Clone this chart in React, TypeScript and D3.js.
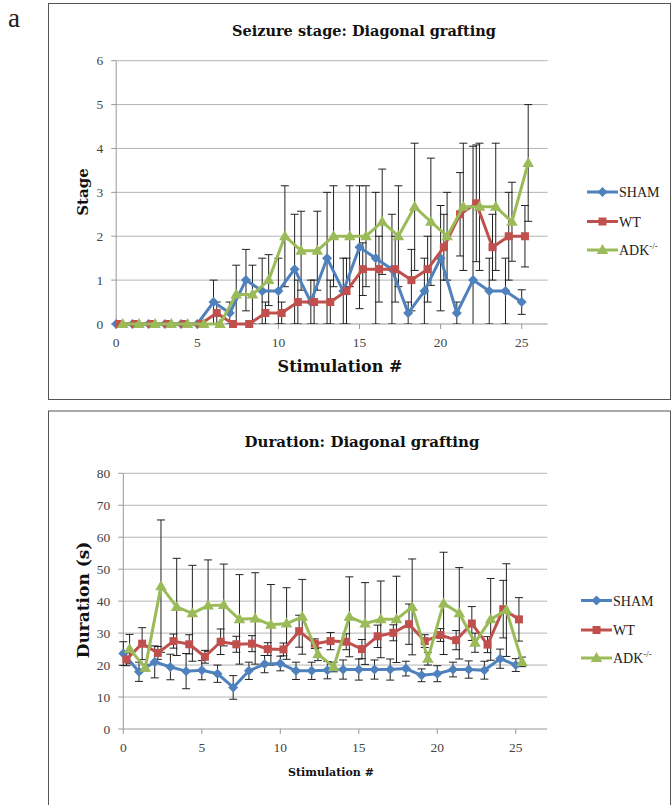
import React from "react";
import * as d3 from "d3";

// ---------- DATA ----------
const stimulation = [0, 1, 2, 3, 4, 5, 6, 7, 8, 9, 10, 11, 12, 13, 14, 15, 16, 17, 18, 19, 20, 21, 22, 23, 24, 25];
const seriesNames = ["SHAM", "WT", "ADK"];
const seriesOffsets = [0, 0.2, 0.4];
const seriesColors = ["#4F81BD", "#C0504D", "#9BBB59"];
const xTicks = [0, 5, 10, 15, 20, 25];

const stageTicks = [0, 1, 2, 3, 4, 5, 6];
const shamStage = [0, 0, 0, 0, 0, 0, 0.5, 0.25, 1, 0.75, 0.75, 1.25, 0.5, 1.5, 0.75, 1.75, 1.5, 1.25, 0.25, 0.75, 1.5, 0.25, 1, 0.75, 0.75, 0.5];
const shamStageErr = [0, 0, 0, 0, 0, 0, 0.5, 0.25, 0.7, 0.75, 0.75, 1.25, 0.5, 1.5, 0.75, 1.4, 1.5, 1.25, 0.25, 0.75, 1.2, 0.25, 3.05, 0.75, 0.75, 0.28];
const wtStage = [0, 0, 0, 0, 0, 0, 0.25, 0, 0, 0.25, 0.25, 0.5, 0.5, 0.5, 0.75, 1.25, 1.25, 1.25, 1, 1.25, 1.75, 2.5, 2.75, 1.75, 2, 2];
const wtStageErr = [0, 0, 0, 0, 0, 0, 0.25, 0, 0, 0.25, 0.25, 0.5, 0.5, 0.5, 0.75, 0.6, 0.75, 0.75, 0.7, 0.75, 0.75, 0.95, 1.33, 0.75, 1, 0.7];
const adkStage = [0, 0, 0, 0, 0, 0, 0, 0.67, 0.67, 1, 2, 1.67, 1.67, 2, 2, 2, 2.33, 2, 2.67, 2.33, 2, 2.67, 2.67, 2.67, 2.33, 3.67];
const adkStageErr = [0, 0, 0, 0, 0, 0, 0, 0.67, 0.67, 0.58, 1.15, 0.9, 0.9, 1.15, 1.15, 1.15, 1.2, 1.15, 1.45, 1.45, 1.0, 1.45, 1.45, 1.45, 0.9, 1.33];

const durationTicks = [0, 10, 20, 30, 40, 50, 60, 70, 80];
const shamDur = [23.6, 17.9, 21.0, 19.4, 18.1, 18.4, 17.3, 13.0, 18.2, 20.3, 20.5, 18.2, 18.2, 18.4, 18.6, 18.6, 18.6, 18.6, 18.9, 16.8, 17.3, 18.6, 18.6, 18.4, 22.0, 20.0];
const shamDurErr = [3.7, 3, 5, 4, 5.5, 3, 2.7, 3.7, 2.7, 2.7, 2.3, 2.7, 2.7, 2.7, 3, 3.3, 3, 3.3, 2.3, 2, 2.5, 2.3, 2.7, 2.8, 3, 2];
const wtDur = [21.8, 26.7, 23.8, 27.5, 26.5, 22.6, 27.3, 26.5, 26.7, 25.0, 24.9, 30.6, 26.7, 27.5, 27.3, 25.0, 29.0, 30.1, 32.8, 27.5, 29.4, 27.8, 33.0, 26.4, 37.5, 34.3];
const wtDurErr = [2, 5, 2, 2.2, 3, 2, 4, 2.5, 2.5, 2, 2, 5, 1.5, 2.7, 2.5, 3, 3.5, 2.5, 6.3, 2, 2, 3, 5.3, 2.5, 9, 6.8];
const adkDur = [25.0, 19.2, 44.7, 38.2, 36.2, 38.6, 38.8, 34.3, 34.6, 32.6, 33.0, 35.1, 23.4, 19.4, 35.1, 33.0, 34.3, 34.3, 38.2, 22.0, 39.3, 36.2, 27.0, 34.3, 37.2, 21.0];
const adkDurErr = [4.6, 1, 20.7, 15.2, 15, 14.3, 12.8, 14, 14.3, 12.6, 11.2, 11.7, 2, 1.5, 12.5, 12.8, 12, 13.5, 15, 2, 16, 14.3, 3, 12.8, 14.5, 1.5];

const FONT = "'Liberation Serif', 'DejaVu Serif', serif";
const BOLD_FONT = "'DejaVu Serif', 'Liberation Serif', serif";

type Layout = {
  id: string;
  boxTop: number;
  boxBottom: number;
  title: string;
  titleX: number;
  titleY: number;
  titleSize: number;
  yLabel: string;
  yLabelX: number;
  yLabelY: number;
  yLabelSize: number;
  xLabelX: number;
  xLabelY: number;
  xLabelSize: number;
  x0: number;
  xUnit: number;
  xMax: number;
  yTop: number;
  yBottom: number;
  yMax: number;
  yTicks: number[];
  legendX: number;
  legendY: number[];
  values: number[][];
  errors: number[][];
};

function Marker({ kind, x, y, color }: { kind: number; x: number; y: number; color: string }) {
  if (kind === 0) {
    const r = 5;
    return <path d={`M${x},${y - r}L${x + r},${y}L${x},${y + r}L${x - r},${y}Z`} fill={color} />;
  }
  if (kind === 1) {
    return <rect x={x - 4} y={y - 4} width={8} height={8} fill={color} />;
  }
  return <path d={`M${x},${y - 6}L${x + 5.8},${y + 4}L${x - 5.8},${y + 4}Z`} fill={color} />;
}

function Chart({ L }: { L: Layout }) {
  const x = d3.scaleLinear().domain([0, L.xMax]).range([L.x0, L.x0 + L.xUnit * L.xMax]);
  const y = d3.scaleLinear().domain([0, L.yMax]).range([L.yBottom, L.yTop]);
  const xRight = x(L.xMax);
  const line = d3.line<[number, number]>().x((d) => x(d[0])).y((d) => y(d[1]));
  return (
    <g>
      <rect x={48.5} y={L.boxTop} width={622} height={L.boxBottom - L.boxTop} fill="white" stroke="#555" strokeWidth={1} />
      <text x={L.titleX} y={L.titleY} textAnchor="middle" fontFamily={BOLD_FONT} fontWeight="bold" fontSize={L.titleSize} fill="#111">
        {L.title}
      </text>
      {L.yTicks.map((t) => (
        <g key={"g" + t}>
          {t > 0 && <line x1={L.x0} x2={xRight} y1={y(t)} y2={y(t)} stroke="#b4b4b4" strokeWidth={1} />}
          <line x1={L.x0 - 5} x2={L.x0} y1={y(t)} y2={y(t)} stroke="#999" strokeWidth={1} />
          <text x={L.x0 - 13} y={y(t) + 4.5} textAnchor="end" fontFamily={FONT} fontSize={13.5} fill="#444">
            {t}
          </text>
        </g>
      ))}
      <line x1={L.x0} x2={L.x0} y1={L.yTop} y2={L.yBottom} stroke="#999" strokeWidth={1} />
      <line x1={L.x0} x2={xRight} y1={L.yBottom} y2={L.yBottom} stroke="#999" strokeWidth={1} />
      {xTicks.map((t) => (
        <g key={"x" + t}>
          <line x1={x(t)} x2={x(t)} y1={L.yBottom} y2={L.yBottom + 5} stroke="#999" strokeWidth={1} />
          <text x={x(t)} y={L.yBottom + 23} textAnchor="middle" fontFamily={FONT} fontSize={13.5} fill="#444">
            {t}
          </text>
        </g>
      ))}
      <text
        transform={`translate(${L.yLabelX},${L.yLabelY}) rotate(-90)`}
        textAnchor="middle"
        fontFamily={BOLD_FONT}
        fontWeight="bold"
        fontSize={L.yLabelSize}
        fill="#111"
      >
        {L.yLabel}
      </text>
      <text x={L.xLabelX} y={L.xLabelY} textAnchor="middle" fontFamily={BOLD_FONT} fontWeight="bold" fontSize={L.xLabelSize} fill="#111">
        Stimulation #
      </text>
      <defs>
        <clipPath id={"clip" + L.id}>
          <rect x={L.x0 - 10} y={L.yTop} width={xRight - L.x0 + 20} height={L.yBottom - L.yTop} />
        </clipPath>
      </defs>
      <g clipPath={`url(#clip${L.id})`}>
        {L.values.map((vals, s) =>
          vals.map((v, i) => {
            const e = L.errors[s][i];
            if (!e) return null;
            const cx = x(stimulation[i] + seriesOffsets[s]);
            return (
              <g key={`e${s}-${i}`} stroke="#222" strokeWidth={1}>
                <line x1={cx} x2={cx} y1={y(v - e)} y2={y(v + e)} />
                <line x1={cx - 4} x2={cx + 4} y1={y(v + e)} y2={y(v + e)} />
                <line x1={cx - 4} x2={cx + 4} y1={y(v - e)} y2={y(v - e)} />
              </g>
            );
          })
        )}
      </g>
      {L.values.map((vals, s) => (
        <g key={"s" + s}>
          <path
            d={line(vals.map((v, i) => [stimulation[i] + seriesOffsets[s], v] as [number, number])) || ""}
            fill="none"
            stroke={seriesColors[s]}
            strokeWidth={3}
            strokeLinejoin="round"
          />
          {vals.map((v, i) => (
            <Marker key={i} kind={s} x={x(stimulation[i] + seriesOffsets[s])} y={y(v)} color={seriesColors[s]} />
          ))}
        </g>
      ))}
      {seriesNames.map((n, s) => (
        <g key={"l" + n}>
          <line x1={L.legendX} x2={L.legendX + 31} y1={L.legendY[s]} y2={L.legendY[s]} stroke={seriesColors[s]} strokeWidth={3} />
          <Marker kind={s} x={L.legendX + 15.5} y={L.legendY[s]} color={seriesColors[s]} />
          <text x={L.legendX + 32} y={L.legendY[s] + 5} fontFamily={FONT} fontSize={14} fill="#222">
            {n}
            {s === 2 && (
              <tspan fontSize={9} dy={-6}>
                -/-
              </tspan>
            )}
          </text>
        </g>
      ))}
    </g>
  );
}

const topLayout: Layout = {
  id: "top",
  boxTop: 3.5,
  boxBottom: 399.5,
  title: "Seizure stage: Diagonal grafting",
  titleX: 364,
  titleY: 36,
  titleSize: 14.5,
  yLabel: "Stage",
  yLabelX: 88,
  yLabelY: 192,
  yLabelSize: 15,
  xLabelX: 340,
  xLabelY: 372,
  xLabelSize: 16,
  x0: 116.2,
  xUnit: 16.22,
  xMax: 26.6,
  yTop: 60.7,
  yBottom: 324,
  yMax: 6,
  yTicks: stageTicks,
  legendX: 587,
  legendY: [192, 221.5, 250],
  values: [shamStage, wtStage, adkStage],
  errors: [shamStageErr, wtStageErr, adkStageErr],
};

const bottomLayout: Layout = {
  id: "bot",
  boxTop: 411,
  boxBottom: 812,
  title: "Duration: Diagonal grafting",
  titleX: 362,
  titleY: 447,
  titleSize: 15,
  yLabel: "Duration (s)",
  yLabelX: 89,
  yLabelY: 600,
  yLabelSize: 17,
  xLabelX: 331,
  xLabelY: 776,
  xLabelSize: 11,
  x0: 123.3,
  xUnit: 15.7,
  xMax: 27,
  yTop: 473.3,
  yBottom: 729,
  yMax: 80,
  yTicks: durationTicks,
  legendX: 581,
  legendY: [600.5, 630, 658],
  values: [shamDur, wtDur, adkDur],
  errors: [shamDurErr, wtDurErr, adkDurErr],
};

export default function App() {
  return (
    <svg width={672} height={805} style={{ position: "absolute", left: 0, top: 0, background: "white" }}>
      <rect x={0} y={0} width={672} height={805} fill="white" />
      <text x={8} y={27} fontFamily={FONT} fontSize={27} fill="#222">
        a
      </text>
      <Chart L={topLayout} />
      <Chart L={bottomLayout} />
    </svg>
  );
}
